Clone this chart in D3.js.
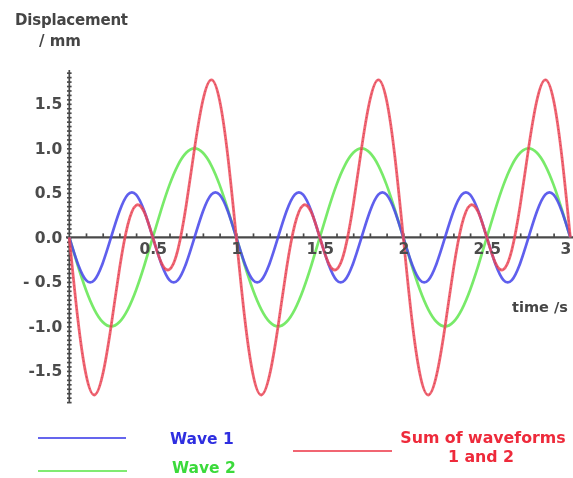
<!DOCTYPE html>
<html>
<head>
<meta charset="utf-8">
<script src="https://cdn.jsdelivr.net/npm/d3@7"></script>
<style>
  html, body { margin: 0; padding: 0; background: #fff; }
  svg { display: block; }
  text { font-family: "DejaVu Sans", Verdana, sans-serif; font-weight: bold; }
</style>
</head>
<body>
<svg id="chart" width="573" height="478"></svg>
<script>
// ---- data (time in s, displacement in mm) ----
const times = [0,0.05,0.1,0.15,0.2,0.25,0.3,0.35,0.4,0.45,0.5,0.55,0.6,0.65,0.7,0.75,0.8,0.85,0.9,0.95,
  1,1.05,1.1,1.15,1.2,1.25,1.3,1.35,1.4,1.45,1.5,1.55,1.6,1.65,1.7,1.75,1.8,1.85,1.9,1.95,
  2,2.05,2.1,2.15,2.2,2.25,2.3,2.35,2.4,2.45,2.5,2.55,2.6,2.65,2.7,2.75,2.8,2.85,2.9,2.95,3];

const wave1 = [0,-0.29,-0.48,-0.48,-0.29,0,0.29,0.48,0.48,0.29,
  0,-0.29,-0.48,-0.48,-0.29,0,0.29,0.48,0.48,0.29,
  0,-0.29,-0.48,-0.48,-0.29,0,0.29,0.48,0.48,0.29,
  0,-0.29,-0.48,-0.48,-0.29,0,0.29,0.48,0.48,0.29,
  0,-0.29,-0.48,-0.48,-0.29,0,0.29,0.48,0.48,0.29,
  0,-0.29,-0.48,-0.48,-0.29,0,0.29,0.48,0.48,0.29,
  0];

const wave2 = [0,-0.31,-0.59,-0.81,-0.95,-1,-0.95,-0.81,-0.59,-0.31,0,0.31,0.59,0.81,0.95,1,0.95,0.81,0.59,0.31,
  0,-0.31,-0.59,-0.81,-0.95,-1,-0.95,-0.81,-0.59,-0.31,0,0.31,0.59,0.81,0.95,1,0.95,0.81,0.59,0.31,
  0,-0.31,-0.59,-0.81,-0.95,-1,-0.95,-0.81,-0.59,-0.31,0,0.31,0.59,0.81,0.95,1,0.95,0.81,0.59,0.31,
  0];

const sumWave = [0,-0.9,-1.54,-1.77,-1.54,-1,-0.36,0.14,0.36,0.28,0,-0.28,-0.36,-0.14,0.36,1,1.54,1.77,1.54,0.9,
  0,-0.9,-1.54,-1.77,-1.54,-1,-0.36,0.14,0.36,0.28,0,-0.28,-0.36,-0.14,0.36,1,1.54,1.77,1.54,0.9,
  0,-0.9,-1.54,-1.77,-1.54,-1,-0.36,0.14,0.36,0.28,0,-0.28,-0.36,-0.14,0.36,1,1.54,1.77,1.54,0.9,
  0];

const yTickValues = [1.5, 1.0, 0.5, 0.0, -0.5, -1.0, -1.5];
const yTickLabels = ["1.5", "1.0", "0.5", "0.0", "- 0.5", "-1.0", "-1.5"];
const xTickValues = [0.5, 1, 1.5, 2, 2.5, 3];
const xTickLabels = ["0.5", "1", "1.5", "2", "2.5", "3"];
const seriesNames = ["Wave 1", "Wave 2", "Sum of waveforms", "1 and 2"];

// ---- layout ----
const svg = d3.select("#chart");
const defs = svg.append("defs");
defs.append("filter").attr("id", "soft")
  .append("feGaussianBlur").attr("stdDeviation", 0.45);
const root = svg.append("g").attr("filter", "url(#soft)");

const x = d3.scaleLinear().domain([0, 3]).range([69.3, 570.3]);
const y = d3.scaleLinear().domain([-1.86, 1.88]).range([403, 70]);

const axisCol = "#4a4a4a";
const blue = "#4a4aea", green = "#6ae85a", red = "#ee4a5a";
const fontFam = '"DejaVu Sans", Verdana, sans-serif';

// minor tick positions
const yMinor = d3.range(-37, 38).map(i => i * 0.05);
const xMinor = d3.range(1, 30).map(i => i * 0.1);

// y axis: minor ticks (dotted look)
const yAx = root.append("g").attr("transform", `translate(${x(0) + 2.3},0)`)
  .call(d3.axisLeft(y).tickValues(yMinor).tickSize(4.6).tickFormat(""));
yAx.select(".domain").remove();
yAx.selectAll(".tick line").attr("stroke", axisCol).attr("stroke-width", 1.7);

root.append("line")
  .attr("x1", x(0)).attr("x2", x(0))
  .attr("y1", y(1.88)).attr("y2", y(-1.86))
  .attr("stroke", axisCol).attr("stroke-width", 1.7);

// y labels
const yLab = root.append("g").attr("transform", `translate(${x(0) - 6},0)`)
  .call(d3.axisLeft(y).tickValues(yTickValues).tickSize(0).tickPadding(1)
    .tickFormat((d, i) => yTickLabels[i]));
yLab.select(".domain").remove();
yLab.selectAll(".tick text")
  .attr("fill", "#4c4c4c").style("font-size", "15.5px")
  .style("font-family", fontFam).style("font-weight", "bold");

// x axis line + minor ticks
root.append("line")
  .attr("x1", 66).attr("x2", 573)
  .attr("y1", y(0)).attr("y2", y(0))
  .attr("stroke", axisCol).attr("stroke-width", 2.2);

const xAx = root.append("g").attr("transform", `translate(0,${y(0) - 0.5})`)
  .call(d3.axisTop(x).tickValues(xMinor).tickSize(3.5).tickFormat(""));
xAx.select(".domain").remove();
xAx.selectAll(".tick line").attr("stroke", axisCol).attr("stroke-width", 1.7);

// ---- curves ----
const line = d3.line().x(d => x(d[0])).y(d => y(d[1])).curve(d3.curveNatural);
const pts = arr => times.map((t, i) => [t, arr[i]]);

root.append("path").datum(pts(wave2)).attr("d", line)
  .attr("fill", "none").attr("stroke", green).attr("stroke-width", 2.7).attr("stroke-opacity", 0.9);
root.append("path").datum(pts(wave1)).attr("d", line)
  .attr("fill", "none").attr("stroke", blue).attr("stroke-width", 2.7).attr("stroke-opacity", 0.88);
root.append("path").datum(pts(sumWave)).attr("d", line)
  .attr("fill", "none").attr("stroke", red).attr("stroke-width", 2.8).attr("stroke-opacity", 0.85);
root.append("path").datum(pts(sumWave)).attr("d", line)
  .attr("fill", "none").attr("stroke", "#b02838").attr("stroke-width", 1.1)
  .attr("stroke-dasharray", "1 3").attr("stroke-opacity", 0.5);

// x tick labels (drawn above the curves)
const xLab = root.append("g").attr("transform", `translate(0,${y(0) + 6})`)
  .call(d3.axisBottom(x).tickValues(xTickValues).tickSize(0).tickPadding(0)
    .tickFormat((d, i) => xTickLabels[i]));
xLab.select(".domain").remove();
xLab.selectAll(".tick text")
  .attr("fill", "#4c4c4c").style("font-size", "15.5px")
  .style("font-family", fontFam).style("font-weight", "bold");
// keep the last label ("3") inside the picture edge
xLab.selectAll(".tick text").filter((d, i) => i === xTickValues.length - 1)
  .attr("text-anchor", "end").attr("dx", "0.5");

// ---- axis titles ----
root.append("text").attr("x", 15).attr("y", 25).attr("fill", "#454545")
  .style("font-size", "15px").style("letter-spacing", "-0.2px").text("Displacement");
root.append("text").attr("x", 39).attr("y", 46).attr("fill", "#454545")
  .style("font-size", "15px").text("/ mm");
root.append("text").attr("x", 512).attr("y", 312).attr("fill", "#454545")
  .style("font-size", "14.5px").text("time /s");

// ---- legend ----
root.append("line").attr("x1", 38).attr("x2", 126).attr("y1", 438).attr("y2", 438)
  .attr("stroke", blue).attr("stroke-width", 2.2).attr("stroke-opacity", 0.85);
root.append("line").attr("x1", 38).attr("x2", 127).attr("y1", 471).attr("y2", 471)
  .attr("stroke", green).attr("stroke-width", 2.2).attr("stroke-opacity", 0.85);
root.append("line").attr("x1", 293).attr("x2", 392).attr("y1", 451).attr("y2", 451)
  .attr("stroke", red).attr("stroke-width", 2.2).attr("stroke-opacity", 0.85);

root.append("text").attr("x", 170).attr("y", 444).attr("fill", "#2e2ee0")
  .style("font-size", "15.5px").text(seriesNames[0]);
root.append("text").attr("x", 172).attr("y", 473).attr("fill", "#3ada3a")
  .style("font-size", "15.5px").text(seriesNames[1]);
root.append("text").attr("x", 483).attr("y", 443).attr("fill", "#ee2a3a")
  .attr("text-anchor", "middle").style("font-size", "15.8px").text(seriesNames[2]);
root.append("text").attr("x", 481).attr("y", 462).attr("fill", "#ee2a3a")
  .attr("text-anchor", "middle").style("font-size", "15.8px").text(seriesNames[3]);
</script>
</body>
</html>
